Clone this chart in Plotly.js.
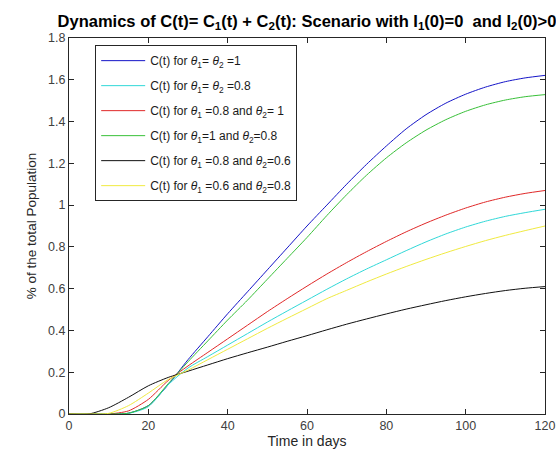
<!DOCTYPE html>
<html>
<head>
<meta charset="utf-8">
<script src="https://cdn.plot.ly/plotly-3.0.1.min.js"></script>
<style>html,body{margin:0;padding:0;background:#fff;}#chart{width:556px;height:462px;}</style>
</head>
<body>
<div id="chart"></div>
<script>
// Time axis (days)
const days = [0,5,10,15,20,25,30,35,40,45,50,55,60,65,70,75,80,85,90,95,100,105,110,115,120];

// C(t) series, % of total population
const cBoth1   = [0,0,0,0.004,0.04,0.14,0.26,0.37,0.48,0.585,0.69,0.795,0.90,1.00,1.10,1.195,1.283,1.365,1.433,1.488,1.531,1.565,1.591,1.609,1.621];
const cBoth08  = [0,0,0,0.003,0.035,0.14,0.22,0.275,0.33,0.385,0.44,0.493,0.545,0.597,0.647,0.694,0.738,0.782,0.824,0.862,0.895,0.923,0.946,0.964,0.98];
const c08and1  = [0,0,0,0.015,0.07,0.16,0.23,0.295,0.36,0.425,0.49,0.552,0.612,0.67,0.725,0.777,0.826,0.872,0.914,0.952,0.986,1.015,1.038,1.056,1.07];
const c1and08  = [0,0,0,0.004,0.04,0.145,0.25,0.35,0.45,0.545,0.645,0.745,0.845,0.95,1.05,1.143,1.226,1.298,1.359,1.409,1.449,1.48,1.503,1.519,1.529];
const c08and06 = [0,0,0.03,0.08,0.135,0.175,0.205,0.235,0.265,0.293,0.32,0.348,0.375,0.403,0.43,0.455,0.479,0.502,0.523,0.543,0.561,0.577,0.591,0.602,0.61];
const c06and08 = [0,0,0.003,0.04,0.10,0.165,0.21,0.26,0.31,0.36,0.41,0.458,0.505,0.552,0.592,0.632,0.67,0.706,0.74,0.772,0.802,0.83,0.855,0.878,0.90];

const labels = [
  "C(t) for <i>θ</i><sub>1</sub>= <i>θ</i><sub>2</sub> =1",
  "C(t) for <i>θ</i><sub>1</sub>= <i>θ</i><sub>2</sub> =0.8",
  "C(t) for <i>θ</i><sub>1</sub> =0.8 and <i>θ</i><sub>2</sub>= 1",
  "C(t) for <i>θ</i><sub>1</sub>=1 and <i>θ</i><sub>2</sub>=0.8",
  "C(t) for <i>θ</i><sub>1</sub> =0.8 and <i>θ</i><sub>2</sub>=0.6",
  "C(t) for <i>θ</i><sub>1</sub> =0.6 and <i>θ</i><sub>2</sub>=0.8"
];
const series = [cBoth1, cBoth08, c08and1, c1and08, c08and06, c06and08];
const colors = ["#1414c8", "#30d8d8", "#e02828", "#38c038", "#101010", "#f0ea40"];

const traces = series.map((ys, i) => ({
  x: days, y: ys, type: "scatter", mode: "lines",
  name: labels[i], legendgroup: "g" + i,
  line: {color: colors[i], width: 1, shape: "spline", smoothing: 0.7}
}));

const FONT = "Liberation Sans, Arial, sans-serif";
const axisCommon = {
  showline: true, linecolor: "#262626", linewidth: 1, mirror: "ticks",
  ticks: "inside", ticklen: 5, tickcolor: "#262626",
  showgrid: false, zeroline: false,
  tickfont: {family: FONT, size: 12.5, color: "#404040"}
};

const layout = {
  width: 556, height: 462,
  paper_bgcolor: "#ffffff", plot_bgcolor: "#ffffff",
  margin: {l: 69, r: 11, t: 38, b: 48},
  font: {family: FONT, color: "#262626"},
  title: {
    text: "<b>Dynamics of C(t)= C<sub>1</sub>(t) + C<sub>2</sub>(t): Scenario with I<sub>1</sub>(0)=0  and I<sub>2</sub>(0)>0</b>",
    font: {size: 16.5, color: "#000000", family: FONT},
    x: 0.5, xref: "paper", xanchor: "center", y: 0.955, yref: "container", yanchor: "middle"
  },
  xaxis: Object.assign({}, axisCommon, {
    range: [0, 120], dtick: 20, tick0: 0,
    title: {text: "Time in days", font: {size: 14, color: "#262626"}, standoff: 3}
  }),
  yaxis: Object.assign({}, axisCommon, {
    range: [0, 1.8], dtick: 0.2, tick0: 0,
    title: {text: "% of the total Population", font: {size: 13.5, color: "#262626"}, standoff: 8}
  }),
  showlegend: true,
  legend: {
    x: 0.055, y: 0.981, xanchor: "left", yanchor: "top",
    bgcolor: "#ffffff", bordercolor: "#262626", borderwidth: 1,
    font: {size: 12, color: "#1a1a1a", family: FONT},
    tracegroupgap: 6, itemwidth: 44, traceorder: "grouped"
  }
};

Plotly.newPlot("chart", traces, layout, {displayModeBar: false, staticPlot: true});
</script>
</body>
</html>
